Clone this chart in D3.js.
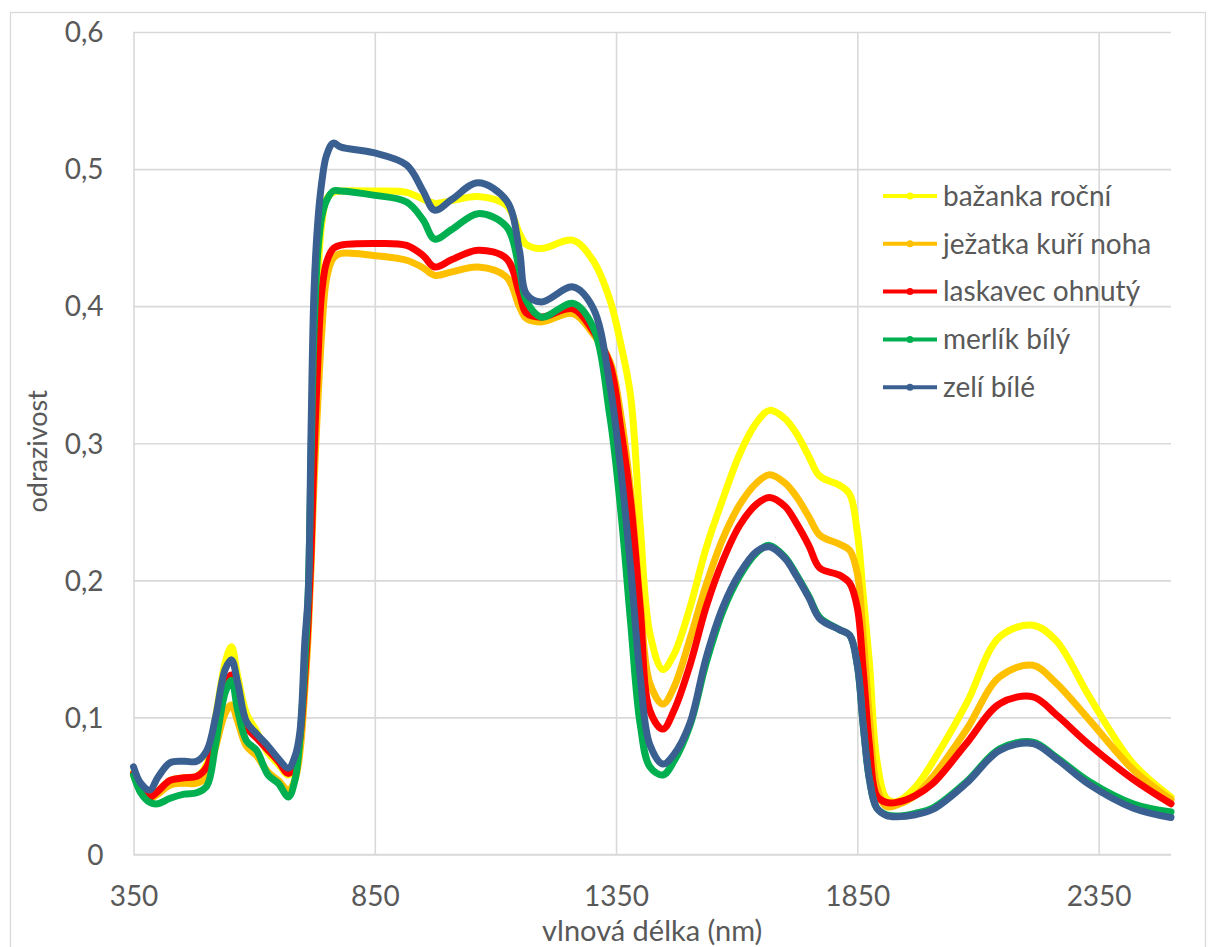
<!DOCTYPE html>
<html>
<head>
<meta charset="utf-8">
<script src="https://cdn.jsdelivr.net/npm/d3@7"></script>
<style>
body{margin:0;background:#fff;}
text{font-family:Lato,"Open Sans",sans-serif;fill:#595959;}
</style>
</head>
<body>
<div id="chart"></div>
<script>
// wavelength (nm) shared by all series
var wavelength = [350,365,384,400,426,455,481,502,520,540,553,566,584,605,629,650,671,685,695,705,712,718,724,732,740,750,764,780,847,916,950,974,1010,1064,1123,1150,1164,1195,1261,1302,1337,1360,1380,1400,1420,1447,1470,1503,1537,1572,1606,1641,1668,1700,1724,1750,1772,1813,1834,1850,1862,1875,1890,1910,1931,1970,2007,2076,2145,2214,2262,2331,2421,2500];

var bazanka = [0.060,0.048,0.042,0.046,0.054,0.056,0.057,0.066,0.100,0.140,0.1515,0.130,0.103,0.090,0.074,0.066,0.058,0.066,0.085,0.130,0.180,0.260,0.350,0.420,0.460,0.478,0.483,0.484,0.484,0.483,0.478,0.475,0.477,0.480,0.4735,0.453,0.445,0.442,0.448,0.4335,0.405,0.372,0.335,0.240,0.1615,0.135,0.146,0.180,0.224,0.260,0.292,0.315,0.324,0.318,0.307,0.290,0.276,0.2694,0.263,0.235,0.190,0.140,0.070,0.041,0.0385,0.049,0.068,0.110,0.1588,0.1673,0.156,0.115,0.0665,0.042];
var jezatka = [0.058,0.047,0.041,0.044,0.0507,0.052,0.052,0.057,0.078,0.103,0.109,0.097,0.079,0.072,0.060,0.054,0.047,0.055,0.075,0.120,0.160,0.210,0.270,0.330,0.380,0.420,0.435,0.4385,0.437,0.4335,0.428,0.4225,0.425,0.4286,0.4213,0.3994,0.391,0.3885,0.3946,0.380,0.360,0.320,0.265,0.185,0.125,0.1097,0.122,0.157,0.197,0.231,0.255,0.271,0.277,0.271,0.261,0.246,0.233,0.2264,0.222,0.205,0.160,0.100,0.050,0.035,0.036,0.043,0.057,0.091,0.1296,0.138,0.125,0.098,0.062,0.040];
var laskavec = [0.059,0.048,0.042,0.046,0.054,0.056,0.057,0.064,0.090,0.123,0.131,0.115,0.093,0.085,0.076,0.068,0.059,0.066,0.085,0.130,0.170,0.220,0.290,0.360,0.410,0.432,0.442,0.4445,0.4457,0.4444,0.437,0.4286,0.434,0.4408,0.4347,0.409,0.395,0.392,0.398,0.382,0.3577,0.310,0.258,0.180,0.105,0.0915,0.105,0.138,0.181,0.215,0.240,0.2555,0.2605,0.254,0.2415,0.225,0.209,0.2038,0.198,0.180,0.135,0.080,0.043,0.038,0.038,0.043,0.052,0.081,0.110,0.115,0.102,0.080,0.055,0.037];
var merlik = [0.058,0.045,0.038,0.037,0.041,0.044,0.045,0.050,0.080,0.118,0.127,0.105,0.083,0.076,0.058,0.052,0.042,0.055,0.085,0.140,0.190,0.290,0.380,0.440,0.465,0.477,0.484,0.484,0.481,0.476,0.463,0.449,0.456,0.4675,0.458,0.426,0.404,0.392,0.402,0.385,0.320,0.250,0.170,0.095,0.064,0.058,0.068,0.094,0.140,0.178,0.203,0.220,0.2255,0.217,0.204,0.188,0.173,0.164,0.160,0.138,0.095,0.055,0.034,0.029,0.028,0.030,0.034,0.053,0.077,0.082,0.071,0.053,0.037,0.031];
var zeli = [0.064,0.052,0.047,0.056,0.067,0.068,0.068,0.076,0.100,0.135,0.142,0.125,0.097,0.088,0.079,0.070,0.063,0.072,0.090,0.155,0.190,0.310,0.410,0.462,0.490,0.510,0.519,0.516,0.512,0.503,0.484,0.470,0.478,0.490,0.477,0.440,0.409,0.403,0.414,0.399,0.343,0.280,0.210,0.130,0.080,0.066,0.073,0.0957,0.144,0.181,0.205,0.221,0.2245,0.216,0.203,0.187,0.172,0.164,0.160,0.138,0.095,0.055,0.034,0.0285,0.0276,0.029,0.033,0.052,0.076,0.081,0.070,0.051,0.034,0.027];

var seriesNames = ["bažanka roční","ježatka kuří noha","laskavec ohnutý","merlík bílý","zelí bílé"];
var seriesValues = [bazanka, jezatka, laskavec, merlik, zeli];
var seriesColors = ["#FFFF00","#FFC000","#FF0000","#00B050","#3A6092"];

var xTicks = [350,850,1350,1850,2350];
var yTicks = [0,0.1,0.2,0.3,0.4,0.5,0.6];

var W = 1209, H = 947;
var plotLeft = 133.5, plotRight = 1171, plotTop = 32, plotBottom = 854.5;

var svg = d3.select("#chart").append("svg")
    .attr("width", W).attr("height", H);

// outer chart border
svg.append("rect")
    .attr("x", 10.5).attr("y", 12.5)
    .attr("width", 1195).attr("height", 960)
    .attr("fill", "none").attr("stroke", "#d9d9d9").attr("stroke-width", 1.3);

var x = d3.scaleLinear().domain([350, 2500]).range([plotLeft, plotRight]);
var y = d3.scaleLinear().domain([0, 0.6]).range([plotBottom, plotTop]);

var yAxis = d3.axisLeft(y)
    .tickValues(yTicks)
    .tickSize(-(plotRight - plotLeft))
    .tickPadding(30)
    .tickFormat(function(d){ return d === 0 ? "0" : d3.format(".1f")(d).replace(".", ","); });

var xAxis = d3.axisBottom(x)
    .tickValues(xTicks)
    .tickSize(-(plotBottom - plotTop))
    .tickPadding(32)
    .tickFormat(function(d){ return d; });

var gy = svg.append("g").attr("transform", "translate(" + plotLeft + ",0)").call(yAxis);
var gx = svg.append("g").attr("transform", "translate(0," + plotBottom + ")").call(xAxis);

[gx, gy].forEach(function(g){
    g.select(".domain").remove();
    g.selectAll(".tick line").attr("stroke", "#d9d9d9").attr("stroke-width", 1.6);
    g.selectAll(".tick text").style("font-size", "28px").attr("fill", "#595959");
});
gy.selectAll(".tick text").attr("dy", "0.35em");

// bottom axis line
svg.append("line")
    .attr("x1", plotLeft).attr("x2", plotRight)
    .attr("y1", plotBottom).attr("y2", plotBottom)
    .attr("stroke", "#d9d9d9").attr("stroke-width", 1.6);

var line = d3.line()
    .x(function(d, i){ return x(wavelength[i]); })
    .y(function(d){ return y(d); })
    .curve(d3.curveCatmullRom.alpha(0.5));

svg.append("g").selectAll("path")
    .data(seriesValues)
    .enter()
    .append("path")
        .attr("d", line)
        .attr("fill", "none")
        .attr("stroke", function(d, i){ return seriesColors[i]; })
        .attr("stroke-width", 7)
        .attr("stroke-linejoin", "round")
        .attr("stroke-linecap", "round");

// axis titles
svg.append("text")
    .attr("transform", "translate(47," + ((plotTop + plotBottom) / 2 + 8) + ") rotate(-90)")
    .attr("text-anchor", "middle")
    .style("font-size", "27px")
    .text("odrazivost");

svg.append("text")
    .attr("x", (plotLeft + plotRight) / 2)
    .attr("y", 941)
    .attr("text-anchor", "middle")
    .style("font-size", "29px")
    .text("vlnová délka (nm)");

// legend
var legend = svg.append("g").selectAll("g")
    .data(seriesNames)
    .enter()
    .append("g")
        .attr("transform", function(d, i){ return "translate(883," + (196 + i * 47.8) + ")"; });

legend.append("line")
    .attr("x1", 0).attr("x2", 54)
    .attr("stroke", function(d, i){ return seriesColors[i]; })
    .attr("stroke-width", 4);
legend.append("circle")
    .attr("cx", 27).attr("r", 3.5)
    .attr("fill", function(d, i){ return seriesColors[i]; });
legend.append("text")
    .attr("x", 60).attr("dy", "0.35em")
    .style("font-size", "28px")
    .text(function(d){ return d; });
</script>
</body>
</html>
